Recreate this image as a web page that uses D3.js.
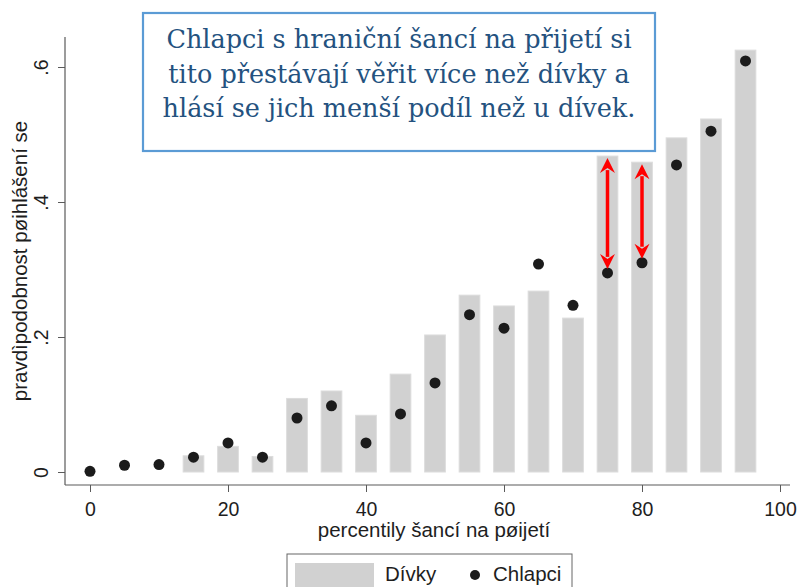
<!DOCTYPE html>
<html>
<head>
<meta charset="utf-8">
<script src="https://cdn.jsdelivr.net/npm/d3@7"></script>
<style>
  body { margin: 0; background: #fff; }
  svg { display: block; font-family: "Liberation Sans", Arial, sans-serif; }
</style>
</head>
<body>
<div id="chart"></div>
<script>
// percentiles of admission chance
var percentiles = [0, 5, 10, 15, 20, 25, 30, 35, 40, 45, 50, 55, 60, 65, 70, 75, 80, 85, 90, 95];
// girls (bars)
var divky = [0, 0, 0, 0.024, 0.038, 0.023, 0.109, 0.120, 0.084, 0.145, 0.203, 0.262, 0.246, 0.268, 0.228, 0.468, 0.459, 0.495, 0.523, 0.625];
// boys (dots)
var chlapci = [0.001, 0.010, 0.011, 0.022, 0.043, 0.022, 0.080, 0.098, 0.043, 0.086, 0.132, 0.233, 0.213, 0.308, 0.247, 0.295, 0.310, 0.455, 0.505, 0.609];
var xTicks = [0, 20, 40, 60, 80, 100];
var yTicks = [0, 0.2, 0.4, 0.6];
var yTickLabels = ["0", ".2", ".4", ".6"];
var arrowAt = [75, 80];
var noteLines = ["Chlapci s hraniční šancí na přijetí si",
                 "tito přestávají věřit více než dívky a",
                 "hlásí se jich menší podíl než u dívek."];

var W = 800, H = 587;
var svg = d3.select("#chart").append("svg")
    .attr("width", W).attr("height", H);

var x = d3.scaleLinear().domain([0, 100]).range([90, 780]);
var y = d3.scaleLinear().domain([0, 0.6]).range([472, 67]);
var axisColor = "#5a5a5a";
var textColor = "#1e1e1e";
var barW = x(3) - x(0);

// bars
svg.selectAll("rect.bar")
  .data(percentiles.map(function(p, i) { return {p: p, v: divky[i]}; }).filter(function(d) { return d.v > 0; }))
  .enter().append("rect")
    .attr("class", "bar")
    .attr("x", function(d) { return x(d.p) - barW / 2; })
    .attr("y", function(d) { return y(d.v); })
    .attr("width", barW)
    .attr("height", function(d) { return y(0) - y(d.v); })
    .attr("fill", "#d1d1d1")
    .attr("stroke", "#dcdcdc")
    .attr("stroke-width", 1);

// dots
svg.selectAll("circle.dot")
  .data(percentiles.map(function(p, i) { return {p: p, v: chlapci[i]}; }))
  .enter().append("circle")
    .attr("class", "dot")
    .attr("cx", function(d) { return x(d.p); })
    .attr("cy", function(d) { return y(d.v); })
    .attr("r", 5.5)
    .attr("fill", "#1b1b1b");

// axes
var xAxis = svg.append("g")
    .attr("transform", "translate(0,485)")
    .call(d3.axisBottom(x).tickValues(xTicks).tickSize(7).tickSizeOuter(0));
xAxis.select(".domain").remove();
xAxis.selectAll("line").attr("stroke", axisColor);
xAxis.selectAll("text").attr("font-size", 19.5).attr("fill", textColor)
  .attr("font-family", "Liberation Sans, Arial, sans-serif")
  .attr("dy", null).attr("y", 31);
svg.append("line").attr("x1", 65).attr("x2", 790).attr("y1", 485).attr("y2", 485)
  .attr("stroke", axisColor).attr("stroke-width", 1.2);

var yAxis = svg.append("g")
    .attr("transform", "translate(65,0)")
    .call(d3.axisLeft(y).tickValues(yTicks).tickSize(7).tickSizeOuter(0).tickFormat(function(d, i) { return yTickLabels[i]; }));
yAxis.select(".domain").remove();
yAxis.selectAll("line").attr("stroke", axisColor);
yAxis.selectAll("text")
  .attr("font-size", 19.5).attr("fill", textColor)
  .attr("font-family", "Liberation Sans, Arial, sans-serif")
  .attr("x", null).attr("dy", null)
  .attr("text-anchor", "middle")
  .attr("transform", "translate(-17,0) rotate(-90)");
svg.append("line").attr("x1", 65).attr("x2", 65).attr("y1", 37).attr("y2", 485)
  .attr("stroke", axisColor).attr("stroke-width", 1.2);

// axis titles
svg.append("text")
  .attr("x", 434).attr("y", 537)
  .attr("text-anchor", "middle").attr("font-size", 20.5).attr("fill", textColor)
  .text("percentily šancí na pøijetí");
svg.append("text")
  .attr("transform", "translate(27,261) rotate(-90)")
  .attr("text-anchor", "middle").attr("font-size", 20.5).attr("fill", textColor)
  .text("pravdìpodobnost pøihlášení se");

// red double arrows between bar top and dot
var arrows = arrowAt.map(function(p) {
  var i = percentiles.indexOf(p);
  return {p: p, top: divky[i], bottom: chlapci[i]};
});
var ag = svg.append("g");
arrows.forEach(function(a) {
  var cx = x(a.p), y1 = y(a.top) + 2, y2 = y(a.bottom) - 4;
  var hl = 15, hw = 7.5;
  ag.append("line").attr("x1", cx).attr("x2", cx).attr("y1", y1 + hl - 3).attr("y2", y2 - hl + 3)
    .attr("stroke", "#ff0000").attr("stroke-width", 3.5);
  ag.append("path")
    .attr("d", "M" + cx + "," + y1 + "L" + (cx + hw) + "," + (y1 + hl) + "L" + cx + "," + (y1 + hl - 5) + "L" + (cx - hw) + "," + (y1 + hl) + "Z")
    .attr("fill", "#ff0000");
  ag.append("path")
    .attr("d", "M" + cx + "," + y2 + "L" + (cx + hw) + "," + (y2 - hl) + "L" + cx + "," + (y2 - hl + 5) + "L" + (cx - hw) + "," + (y2 - hl) + "Z")
    .attr("fill", "#ff0000");
});

// note box
svg.append("rect")
  .attr("x", 143).attr("y", 13).attr("width", 512).attr("height", 138)
  .attr("fill", "#fff").attr("stroke", "#5b9bd5").attr("stroke-width", 2.2);
svg.append("g").selectAll("text")
  .data(noteLines).enter().append("text")
    .attr("x", 399)
    .attr("y", function(d, i) { return 48 + i * 34.5; })
    .attr("text-anchor", "middle")
    .attr("font-family", "DejaVu Serif, Georgia, serif")
    .attr("font-size", 25.5)
    .attr("fill", "#24527f")
    .text(function(d) { return d; });

// legend
var lg = svg.append("g");
lg.append("rect").attr("x", 287).attr("y", 554).attr("width", 285).attr("height", 40)
  .attr("fill", "#fff").attr("stroke", "#666").attr("stroke-width", 1);
lg.append("rect").attr("x", 295).attr("y", 563).attr("width", 79).attr("height", 24)
  .attr("fill", "#d1d1d1");
lg.append("text").attr("x", 385).attr("y", 581).attr("font-size", 20.5).attr("fill", textColor).text("Dívky");
lg.append("circle").attr("cx", 475).attr("cy", 575).attr("r", 5).attr("fill", "#1b1b1b");
lg.append("text").attr("x", 493).attr("y", 581).attr("font-size", 20.5).attr("fill", textColor).text("Chlapci");
</script>
</body>
</html>
